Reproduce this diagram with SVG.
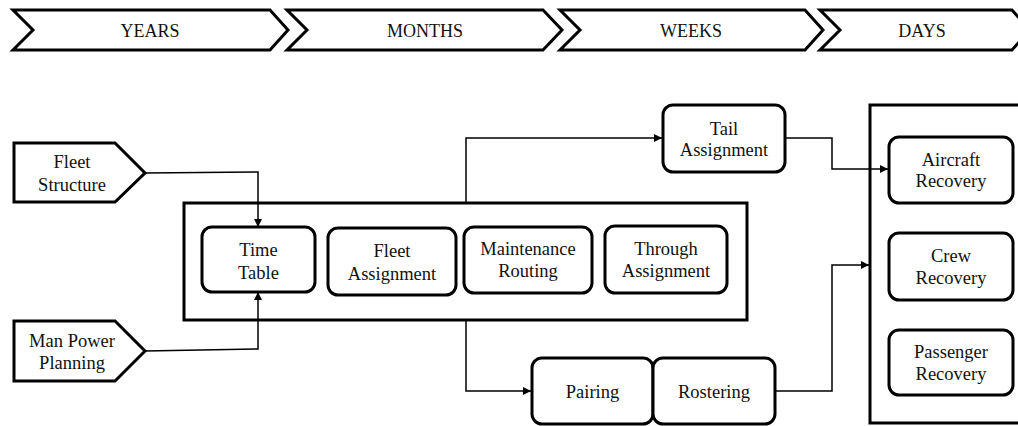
<svg xmlns="http://www.w3.org/2000/svg" width="1018" height="426" viewBox="0 0 1018 426" font-family="'Liberation Serif', 'DejaVu Serif', serif">
<defs>
<marker id="arr" viewBox="0 0 10 10" refX="10" refY="5" markerWidth="9" markerHeight="8" markerUnits="userSpaceOnUse" orient="auto">
<path d="M0,0 L10,5 L0,10 z" fill="#000"/>
</marker>
<style>
.shape{fill:#fff;stroke:#000;stroke-width:3;stroke-linejoin:miter}
.box{fill:#fff;stroke:#000;stroke-width:3}
.frame{fill:none;stroke:#000;stroke-width:3}
.conn{fill:none;stroke:#000;stroke-width:1.5}
.t{font-family:'Liberation Serif','DejaVu Serif',serif;font-size:18.5px;fill:#111;text-anchor:middle}
.ban{font-size:18px}
</style>
</defs>
<rect width="1018" height="426" fill="#fff"/>
<g id="banner">
<g id="years"><polygon class="shape" points="13,10 270,10 288,30 270,50 13,50 33,30"/><text class="t ban" x="150" y="37">YEARS</text></g>
<g id="months"><polygon class="shape" points="287,10 543,10 562,30 543,50 287,50 307,30"/><text class="t ban" x="425" y="37">MONTHS</text></g>
<g id="weeks"><polygon class="shape" points="560,10 805,10 823,30 805,50 560,50 580,30"/><text class="t ban" x="691" y="37">WEEKS</text></g>
<g id="days"><polygon class="shape" points="820,10 1012,10 1030,30 1012,50 820,50 840,30"/><text class="t ban" x="922" y="37">DAYS</text></g>
</g>
<g id="fleet-structure"><polygon class="shape" points="14,143 115,143 145,173 115,202 14,202"/><text class="t" x="72" y="168">Fleet</text><text class="t" x="72" y="191">Structure</text></g>
<g id="man-power-planning"><polygon class="shape" points="14,321 115,321 145,351 115,381 14,381"/><text class="t" x="72" y="347">Man Power</text><text class="t" x="72" y="369">Planning</text></g>
<g id="scheduling-frame"><rect class="frame" x="184" y="203" width="563" height="117"/></g>
<g id="time-table"><rect class="box" x="202" y="227" width="113" height="65" rx="10"/><text class="t" x="258.5" y="256">Time</text><text class="t" x="258.5" y="279">Table</text></g>
<g id="fleet-assignment"><rect class="box" x="328" y="228" width="128" height="67" rx="10"/><text class="t" x="392" y="257">Fleet</text><text class="t" x="392" y="280">Assignment</text></g>
<g id="maintenance-routing"><rect class="box" x="464" y="227" width="128" height="66" rx="10"/><text class="t" x="528" y="255">Maintenance</text><text class="t" x="528" y="277">Routing</text></g>
<g id="through-assignment"><rect class="box" x="605" y="226" width="122" height="67" rx="10"/><text class="t" x="666" y="255">Through</text><text class="t" x="666" y="277">Assignment</text></g>
<g id="tail-assignment"><rect class="box" x="663" y="105" width="122" height="67" rx="10"/><text class="t" x="724" y="135">Tail</text><text class="t" x="724" y="156">Assignment</text></g>
<g id="pairing"><rect class="box" x="532" y="358" width="121" height="66" rx="10"/><text class="t" x="592.5" y="398">Pairing</text></g>
<g id="rostering"><rect class="box" x="653" y="358" width="122" height="66" rx="10"/><text class="t" x="714" y="398">Rostering</text></g>
<g id="recovery-frame"><rect class="frame" x="870" y="105" width="160" height="318"/></g>
<g id="aircraft-recovery"><rect class="box" x="889" y="137" width="124" height="66" rx="10"/><text class="t" x="951" y="166">Aircraft</text><text class="t" x="951" y="187">Recovery</text></g>
<g id="crew-recovery"><rect class="box" x="889" y="233" width="124" height="67" rx="10"/><text class="t" x="951" y="262">Crew</text><text class="t" x="951" y="284">Recovery</text></g>
<g id="passenger-recovery"><rect class="box" x="889" y="330" width="124" height="65" rx="10"/><text class="t" x="951" y="358">Passenger</text><text class="t" x="951" y="380">Recovery</text></g>
<g id="connectors">
<polyline class="conn" points="145,173 258,172 258,227" marker-end="url(#arr)"/>
<polyline class="conn" points="145,351 258,349 258,292" marker-end="url(#arr)"/>
<polyline class="conn" points="466,203 466,138 662,138" marker-end="url(#arr)"/>
<polyline class="conn" points="466,320 466,391 531,391" marker-end="url(#arr)"/>
<polyline class="conn" points="785,138 832,138 832,169 888,169" marker-end="url(#arr)"/>
<polyline class="conn" points="775,391 832,391 832,265 869,265" marker-end="url(#arr)"/>
</g>
</svg>
